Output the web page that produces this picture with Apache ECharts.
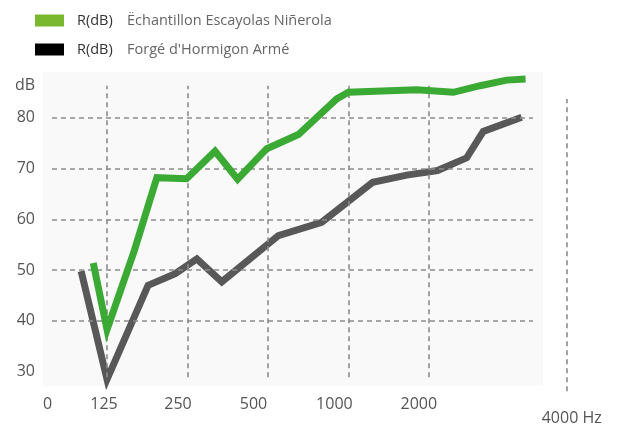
<!DOCTYPE html>
<html><head><meta charset="utf-8">
<script src="https://cdn.jsdelivr.net/npm/echarts@6/dist/echarts.min.js"></script>
<style>html,body{margin:0;padding:0;background:#fff}#c{width:621px;height:426px}</style>
</head><body><div id="c"></div>
<script>
// ---- data ----
const seriesNames = ['Ëchantillon Escayolas Niñerola', "Forgé d'Hormigon Armé"];
const seriesPrefix = 'R(dB)';
const greenFreq = [111, 125, 158, 192, 248, 317, 385, 495, 650, 904, 1000, 1800, 2470, 3110, 3910, 4600];
const greenDb   = [51.4, 38.3, 53.8, 68.2, 68.0, 73.4, 67.9, 73.9, 76.7, 83.7, 85.0, 85.5, 85.0, 86.3, 87.4, 87.6];
const blackFreq = [100, 125, 178, 225, 271, 336, 547, 794, 1233, 1652, 2154, 2770, 3196, 4450];
const blackDb   = [49.8, 28.5, 47.0, 49.3, 52.2, 47.7, 56.8, 59.4, 67.3, 68.7, 69.6, 72.1, 77.3, 80.1];
const xTickValues = [125, 250, 500, 1000, 2000];
const xTickLabels = ['125', '250', '500', '1000', '2000'];
const xOriginLabel = '0';
const xEndLabel = '4000 Hz';
const yTickValues = [30, 40, 50, 60, 70, 80];
const yGridValues = [40, 50, 60, 70, 80];
const yName = 'dB';

// ---- axis extents / panel extents / label nudges (layout) ----
const xMin = 72, xMax = 6557, yMin = 26, yMax = 89;
const panel = { x0: xMin, x1: 5345, y0: 27.17, y1: yMax };
const hLine = { x0: 77.8, x1: 4904 };
const vLine = { y0: 28.9, y1: 86.3 };
const endLine = { y0: 26.14, y1: 83.7 };
const labelNudge = [6, 19, 29, 28, 20]; // right padding per x label (shifts label left by half)

const FONT = 'Open Sans';
const gridStyle = { type: [5, 4], color: '#8c8c8c', width: 1.6 };

const markLineData = [];
yGridValues.forEach(v => markLineData.push([{ coord: [hLine.x0, v] }, { coord: [hLine.x1, v] }]));
xTickValues.forEach(f => markLineData.push([{ coord: [f, vLine.y0] }, { coord: [f, vLine.y1] }]));
markLineData.push([{ coord: [xMax, endLine.y0] }, { coord: [xMax, endLine.y1] }]);

const xRich = { o: { color: '#555', fontSize: 16, fontFamily: FONT } };
labelNudge.forEach((p, i) => {
  xRich['t' + i] = { padding: [0, p, 0, 0], color: '#555', fontSize: 16, fontFamily: FONT };
});

function fmtX(v) {
  if (Math.abs(v - xMin) / xMin < 0.01) return '{o|' + xOriginLabel + '}';
  for (let i = 0; i < xTickValues.length; i++) {
    if (Math.abs(v - xTickValues[i]) / xTickValues[i] < 0.01) return '{t' + i + '|' + xTickLabels[i] + '}';
  }
  return '';
}

const chart = echarts.init(document.getElementById('c'), null, { renderer: 'canvas' });
chart.setOption({
  animation: false,
  grid: { left: 43, right: 54.3, top: 72, bottom: 32, containLabel: false },
  legend: {
    orient: 'vertical', left: 35, top: 13, padding: 0, itemWidth: 29, itemHeight: 12, itemGap: 14, icon: 'rect',
    selectedMode: false,
    data: [
      { name: seriesNames[0], itemStyle: { color: '#7ab82f', borderWidth: 0 } },
      { name: seriesNames[1], itemStyle: { color: '#000000', borderWidth: 0 } }
    ],
    formatter: name => '{r|' + seriesPrefix + '}{n|' + name + '}',
    textStyle: {
      fontFamily: FONT, fontSize: 14.5,
      rich: {
        r: { width: 50, padding: [0, 0, 0, 8], color: '#333', fontFamily: FONT, fontSize: 14.5 },
        n: { color: '#666', fontFamily: FONT, fontSize: 14.5 }
      }
    }
  },
  xAxis: {
    type: 'log', logBase: 2, min: xMin, max: xMax,
    axisLine: { show: false }, axisTick: { show: false }, splitLine: { show: false },
    minorTick: { show: false }, minorSplitLine: { show: false },
    axisLabel: {
      customValues: [xMin].concat(xTickValues), formatter: fmtX, rich: xRich,
      alignMinLabel: 'left',
      color: '#555', fontSize: 16, fontFamily: FONT, margin: 4
    },
    name: xEndLabel, nameLocation: 'end', nameGap: -25,
    nameTextStyle: { align: 'left', verticalAlign: 'top', padding: [18, 0, 0, 0], color: '#555', fontSize: 16, fontFamily: FONT }
  },
  yAxis: {
    type: 'value', min: yMin, max: yMax,
    axisLine: { show: false }, axisTick: { show: false }, splitLine: { show: false },
    axisLabel: { customValues: yTickValues, color: '#555', fontSize: 16, fontFamily: FONT, margin: 8 },
    name: yName, nameLocation: 'end', nameGap: -13,
    nameTextStyle: { align: 'right', verticalAlign: 'middle', padding: [0, 8, 0, 0], color: '#555', fontSize: 16, fontFamily: FONT }
  },
  series: [
    {
      name: 'panel', type: 'line', data: [], z: 1, silent: true,
      markArea: {
        silent: true,
        itemStyle: { color: '#f9f9f9' },
        data: [[{ coord: [panel.x0, panel.y0] }, { coord: [panel.x1, panel.y1] }]]
      },
      markLine: {
        silent: true, symbol: 'none', label: { show: false },
        lineStyle: gridStyle, emphasis: { disabled: true },
        data: markLineData
      }
    },
    {
      name: seriesNames[0], type: 'line', z: 5, symbol: 'none', smooth: false,
      itemStyle: { color: '#3aaa35' },
      lineStyle: { width: 7, color: '#3aaa35', join: 'miter', cap: 'butt' },
      data: greenFreq.map((f, i) => [f, greenDb[i]])
    },
    {
      name: seriesNames[1], type: 'line', z: 4, symbol: 'none', smooth: false,
      itemStyle: { color: '#585858' },
      lineStyle: { width: 7, color: '#585858', join: 'miter', cap: 'butt' },
      data: blackFreq.map((f, i) => [f, blackDb[i]])
    }
  ]
});
</script></body></html>
